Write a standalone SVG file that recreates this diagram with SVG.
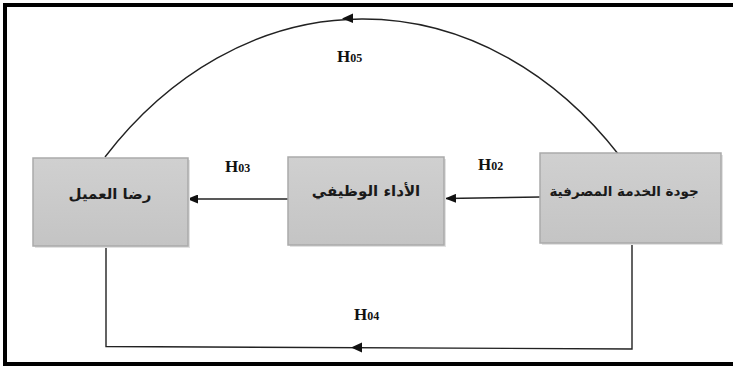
<svg xmlns="http://www.w3.org/2000/svg" width="733" height="367" viewBox="0 0 733 367">
<defs>
<linearGradient id="g" x1="0" y1="0" x2="0" y2="1">
<stop offset="0" stop-color="#d0d0d0"/>
<stop offset="1" stop-color="#c4c4c4"/>
</linearGradient>
<marker id="ah" markerWidth="11" markerHeight="9" refX="10" refY="4.5" orient="auto" markerUnits="userSpaceOnUse">
<path d="M0,0 L11,4.5 L0,9 z" fill="#111"/>
</marker>
</defs>
<style>
.box{fill:url(#g);stroke:#aaaaaa;stroke-width:1.5}
.shadow{fill:#e2e2e2}
.ar{font-family:"DejaVu Sans",sans-serif;font-weight:bold;font-size:15px;fill:#1a1a1a;text-anchor:middle}
.h{font-family:"Liberation Serif",serif;font-weight:bold;font-size:17px;fill:#111}
.h tspan{font-size:12px}
.c{fill:none;stroke:#222;stroke-width:1.4}
.head{fill:#111}
</style>
<rect x="5" y="5" width="740" height="359" fill="#fff" stroke="#000" stroke-width="4"/>
<g id="connectors">
<path class="c" d="M619,155 A360,457 0 0 0 105,157"/>
<polygon class="head" points="342,18.5 353,13.5 353,23"/>
<line class="c" x1="540" y1="197" x2="446" y2="198.5" marker-end="url(#ah)"/>
<line class="c" x1="288" y1="199" x2="188" y2="199" marker-end="url(#ah)"/>
<path class="c" d="M632,243 V349 L106,346.5 V246"/>
<polygon class="head" points="351,347.5 362,342.5 362,352.5"/>
</g>
<g id="label-h05"><text class="h" x="337" y="62">H<tspan>05</tspan></text></g>
<g id="label-h02"><text class="h" x="478" y="170">H<tspan>02</tspan></text></g>
<g id="label-h03"><text class="h" x="225" y="172">H<tspan>03</tspan></text></g>
<g id="label-h04"><text class="h" x="354" y="320">H<tspan>04</tspan></text></g>
<g id="node-customer">
<rect class="shadow" x="35" y="160" width="155" height="88"/>
<rect class="box" x="33" y="158" width="155" height="88"/>
<text class="ar" x="110" y="199" direction="rtl">رضا العميل</text>
</g>
<g id="node-performance">
<rect class="shadow" x="290" y="159" width="156" height="88"/>
<rect class="box" x="288" y="157" width="156" height="88"/>
<text class="ar" x="366" y="196" direction="rtl">الأداء الوظيفي</text>
</g>
<g id="node-quality">
<rect class="shadow" x="542" y="155" width="181" height="90"/>
<rect class="box" x="540" y="153" width="181" height="90"/>
<text class="ar" x="624" y="196" direction="rtl" style="font-size:13.5px">جودة الخدمة المصرفية</text>
</g>
</svg>
